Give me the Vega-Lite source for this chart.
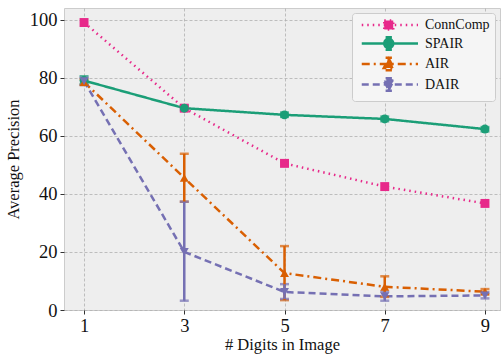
{
  "$schema": "https://vega.github.io/schema/vega-lite/v6.json",
  "width": 503,
  "height": 355,
  "autosize": {"type": "fit", "contains": "padding"},
  "padding": {"left": 5, "top": 8, "right": 3, "bottom": 2},
  "background": "white",
  "config": {
    "font": "Liberation Serif",
    "view": {"fill": "#eeeeee", "stroke": "#cccccc", "strokeWidth": 1},
    "axis": {
      "labelFont": "Liberation Serif",
      "titleFont": "Liberation Serif",
      "labelFontSize": 18.5,
      "titleFontSize": 16.5,
      "titleFontWeight": "normal",
      "labelColor": "#111",
      "titleColor": "#111",
      "gridColor": "#b0b0b0",
      "gridDash": [3, 2],
      "gridWidth": 0.8,
      "domain": false,
      "tickColor": "#333",
      "tickSize": 4
    },
    "legend": {
      "labelFont": "Liberation Serif",
      "labelFontSize": 14,
      "labelColor": "#111"
    }
  },
  "data": {
    "values": [
      {"method": "ConnComp", "digits": 1, "ap": 99.0},
      {"method": "ConnComp", "digits": 3, "ap": 69.5},
      {"method": "ConnComp", "digits": 5, "ap": 50.5},
      {"method": "ConnComp", "digits": 7, "ap": 42.5},
      {"method": "ConnComp", "digits": 9, "ap": 36.7},
      {"method": "SPAIR", "digits": 1, "ap": 79.0, "lo": 77.8, "hi": 80.5},
      {"method": "SPAIR", "digits": 3, "ap": 69.5, "lo": 68.8, "hi": 70.3},
      {"method": "SPAIR", "digits": 5, "ap": 67.2, "lo": 66.5, "hi": 68.0},
      {"method": "SPAIR", "digits": 7, "ap": 65.8, "lo": 65.0, "hi": 66.6},
      {"method": "SPAIR", "digits": 9, "ap": 62.3, "lo": 61.5, "hi": 63.0},
      {"method": "AIR", "digits": 1, "ap": 78.5, "lo": 77.5, "hi": 79.5},
      {"method": "AIR", "digits": 3, "ap": 45.5, "lo": 37.3, "hi": 53.8},
      {"method": "AIR", "digits": 5, "ap": 12.7, "lo": 3.4, "hi": 22.0},
      {"method": "AIR", "digits": 7, "ap": 8.0, "lo": 4.5, "hi": 11.6},
      {"method": "AIR", "digits": 9, "ap": 6.3, "lo": 5.5, "hi": 7.2},
      {"method": "DAIR", "digits": 1, "ap": 78.8, "lo": 77.5, "hi": 80.0},
      {"method": "DAIR", "digits": 3, "ap": 20.0, "lo": 3.2, "hi": 37.3},
      {"method": "DAIR", "digits": 5, "ap": 6.2, "lo": 3.8, "hi": 8.9},
      {"method": "DAIR", "digits": 7, "ap": 4.7, "lo": 3.2, "hi": 6.3},
      {"method": "DAIR", "digits": 9, "ap": 5.0, "lo": 4.0, "hi": 6.0}
    ]
  },
  "encoding": {
    "x": {
      "field": "digits", "type": "quantitative", "title": "# Digits in Image",
      "scale": {"domain": [0.6, 9.3], "nice": false, "zero": false},
      "axis": {"values": [1, 3, 5, 7, 9], "labelPadding": 2, "titlePadding": 2}
    },
    "color": {
      "field": "method", "type": "nominal", "title": null,
      "scale": {"domain": ["ConnComp", "SPAIR", "AIR", "DAIR"], "range": ["#e7298a", "#1b9e77", "#d95f02", "#7570b3"]}
    }
  },
  "layer": [
    {
      "transform": [{"filter": "datum.digits > 100"}],
      "mark": {"type": "point", "filled": true, "opacity": 1, "size": 81, "strokeWidth": 2.5},
      "encoding": {
        "y": {
          "field": "ap", "type": "quantitative", "title": "Average Precision",
          "scale": {"domain": [0, 104], "nice": false},
          "axis": {"values": [0, 20, 40, 60, 80, 100], "labelPadding": 3, "titlePadding": 8}
        },
        "color": {
          "field": "method", "type": "nominal", "title": null,
          "scale": {"domain": ["ConnComp", "SPAIR", "AIR", "DAIR"], "range": ["#e7298a", "#1b9e77", "#d95f02", "#7570b3"]},
          "legend": {
            "orient": "top-right", "offset": 5, "fillColor": "#f5f5f5", "strokeColor": "#cccccc",
            "cornerRadius": 3, "padding": 5, "rowPadding": -3.5, "symbolSize": 81, "symbolStrokeWidth": 2.5, "labelOffset": 54
          }
        },
        "stroke": {
          "field": "method", "type": "nominal", "title": null,
          "scale": {"domain": ["ConnComp", "SPAIR", "AIR", "DAIR"], "range": ["#e7298a", "#1b9e77", "#d95f02", "#7570b3"]}
        },
        "strokeDash": {
          "field": "method", "type": "nominal", "title": null,
          "scale": {"domain": ["ConnComp", "SPAIR", "AIR", "DAIR"], "range": [[1.5, 4], [1, 0], [8, 4, 2, 4], [7, 4]]}
        },
        "shape": {
          "field": "method", "type": "nominal", "title": null,
          "scale": {
            "domain": ["ConnComp", "SPAIR", "AIR", "DAIR"],
            "range": [
              "M-0.5,0H12M4.5,-1H6.5V1H4.5Z",
              "M-0.5,0H12M5.5,-1.4V1.4M4.8,-1.4H6.2M4.8,1.4H6.2M4.5,0A1,1 0 1,0 6.5,0A1,1 0 1,0 4.5,0Z",
              "M-0.5,0H12M5.5,-1.4V1.4M4.8,-1.4H6.2M4.8,1.4H6.2M5.5,-1.2L6.6,0.9H4.4Z",
              "M-0.5,0H12M5.5,-1.4V1.4M4.8,-1.4H6.2M4.8,1.4H6.2M5.5,1.2L6.6,-0.9H4.4Z"
            ]
          }
        }
      }
    },
    {
      "mark": {"type": "line", "strokeWidth": 2.5},
      "encoding": {
        "y": {"field": "ap", "type": "quantitative"},
        "strokeDash": {"field": "method", "type": "nominal", "title": null}
      }
    },
    {
      "mark": {"type": "errorbar", "ticks": {"size": 9}, "thickness": 2.5},
      "encoding": {
        "y": {"field": "lo", "type": "quantitative", "title": "Average Precision"},
        "y2": {"field": "hi"}
      }
    },
    {
      "transform": [{"filter": "datum.method == 'ConnComp'"}],
      "mark": {"type": "point", "shape": "square", "filled": true, "opacity": 1, "size": 80},
      "encoding": {"y": {"field": "ap", "type": "quantitative"}}
    },
    {
      "transform": [{"filter": "datum.method == 'SPAIR'"}],
      "mark": {"type": "point", "shape": "circle", "filled": true, "opacity": 1, "size": 80},
      "encoding": {"y": {"field": "ap", "type": "quantitative"}}
    },
    {
      "transform": [{"filter": "datum.method == 'AIR'"}],
      "mark": {"type": "point", "shape": "triangle-up", "filled": true, "opacity": 1, "size": 80},
      "encoding": {"y": {"field": "ap", "type": "quantitative"}}
    },
    {
      "transform": [{"filter": "datum.method == 'DAIR'"}],
      "mark": {"type": "point", "shape": "triangle-down", "filled": true, "opacity": 1, "size": 80},
      "encoding": {"y": {"field": "ap", "type": "quantitative"}}
    }
  ]
}
